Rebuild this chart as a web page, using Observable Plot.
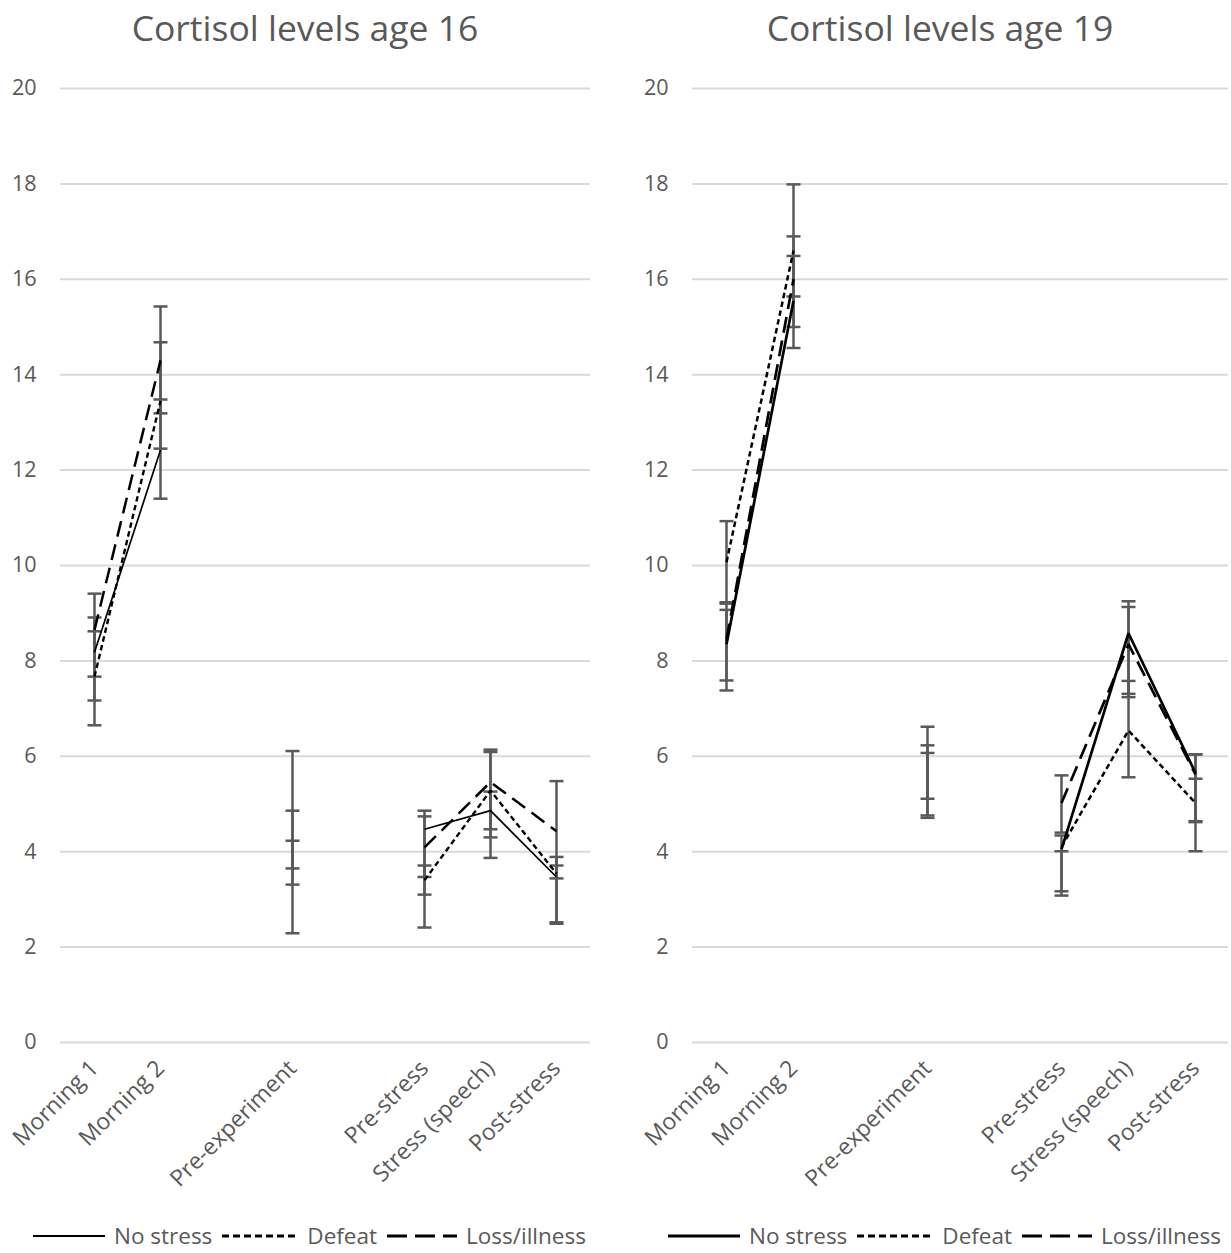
<!DOCTYPE html>
<html><head><meta charset="utf-8">
<script src="https://cdn.jsdelivr.net/npm/d3@7"></script>
<script src="https://cdn.jsdelivr.net/npm/@observablehq/plot@0.6"></script>
<style>
body{margin:0;background:#fff;font-family:"Open Sans",sans-serif;}
#wrap{position:relative;width:1231px;height:1253px;overflow:hidden;background:#fff;}
.title{position:absolute;top:3px;font-size:35.5px;color:#595959;text-align:center;white-space:nowrap;}
.panel{position:absolute;top:60px;}
.legend{position:absolute;top:1222px;display:flex;align-items:center;font-size:22.5px;color:#595959;white-space:nowrap;line-height:28px;}
.legend svg{display:block;margin-right:9px;}
.legend span{margin-right:10px;}
</style></head><body><div id="wrap"></div>
<script>
// Categories (blank slots are spacing categories in the original chart)
const slots = ["Morning 1","Morning 2"," ","Pre-experiment","  ","Pre-stress","Stress (speech)","Post-stress"];
const seriesNames = ["No stress","Defeat","Loss/illness"];
const yTicks = [0,2,4,6,8,10,12,14,16,18,20];
const titles = ["Cortisol levels age 16","Cortisol levels age 19"];

// Age 16 — means
const age16NoStress = [8.18, 12.42, null, 3.77, null, 4.47, 4.86, 3.47];
const age16Defeat   = [7.67, 13.45, null, 3.58, null, 3.40, 5.28, 3.54];
const age16Loss     = [8.65, 14.30, null, 4.88, null, 4.09, 5.46, 4.43];
// Age 16 — error bar limits
const age16NoStressLo = [7.17, 11.40, null, 3.31, null, 3.47, 3.87, 2.49];
const age16NoStressHi = [8.91, 13.48, null, 4.23, null, 4.86, 5.26, 3.71];
const age16DefeatLo   = [6.65, 12.45, null, 2.29, null, 3.10, 4.47, 2.52];
const age16DefeatHi   = [8.62, 14.68, null, 4.86, null, 3.71, 6.09, 3.89];
const age16LossLo     = [7.67, 13.19, null, 3.65, null, 2.41, 4.30, 3.44];
const age16LossHi     = [9.41, 15.43, null, 6.11, null, 4.74, 6.14, 5.48];

// Age 19 — means
const age19NoStress = [8.35, 15.55, null, 5.67, null, 4.05, 8.58, 5.65];
const age19Defeat   = [10.07, 16.60, null, 5.50, null, 4.10, 6.54, 5.02];
const age19Loss     = [8.45, 16.00, null, 5.59, null, 5.02, 8.35, 5.62];
// Age 19 — error bar limits
const age19NoStressLo = [7.59, 14.56, null, 4.71, null, 3.08, 7.31, 4.62];
const age19NoStressHi = [9.07, 16.49, null, 6.62, null, 4.01, 9.25, 6.04];
const age19DefeatLo   = [9.23, 15.00, null, 4.76, null, 3.17, 5.56, 4.01];
const age19DefeatHi   = [10.93, 17.99, null, 6.23, null, 4.34, 7.58, 6.04];
const age19LossLo     = [7.38, 15.64, null, 5.11, null, 4.40, 7.24, 4.64];
const age19LossHi     = [9.20, 16.90, null, 6.07, null, 5.60, 9.13, 5.53];

function table(means, los, his) {
  const rows = [];
  seriesNames.forEach((s, k) => {
    slots.forEach((slot, i) => {
      rows.push({series: s, slot, mean: means[k][i] ?? NaN, lo: los[k][i], hi: his[k][i]});
    });
  });
  return rows;
}
const data16 = table([age16NoStress, age16Defeat, age16Loss],
                     [age16NoStressLo, age16DefeatLo, age16LossLo],
                     [age16NoStressHi, age16DefeatHi, age16LossHi]);
const data19 = table([age19NoStress, age19Defeat, age19Loss],
                     [age19NoStressLo, age19DefeatLo, age19LossLo],
                     [age19NoStressHi, age19DefeatHi, age19LossHi]);

const dashes = {"No stress": null, "Defeat": "5.5,3.5", "Loss/illness": "16,8"};
const legendDashes = {"No stress": null, "Defeat": "7,4", "Loss/illness": "20,8"};

// horizontal cap symbol for error bars
const capSymbol = {draw(context) { context.moveTo(-7, 0); context.lineTo(7, 0); }};

function panel(data, {width, marginLeft, marginRight, widths}) {
  const bars = data.filter(d => d.lo != null);
  return Plot.plot({
    width, height: 1140,
    marginTop: 28, marginBottom: 158, marginLeft, marginRight,
    style: {fontFamily: '"Open Sans", sans-serif', color: "#595959", background: "#fff", overflow: "visible"},
    x: {type: "point", domain: slots, padding: 0.5},
    y: {domain: [0, 20]},
    marks: [
      Plot.gridY(yTicks, {stroke: "#d9d9d9", strokeOpacity: 1, strokeWidth: 2}),
      Plot.axisY({ticks: yTicks, tickSize: 0, tickPadding: 24, fontSize: 21.5, label: null}),
      Plot.axisX({tickSize: 0, tickRotate: -45, tickPadding: 22, fontSize: 23, label: null, tickFormat: d => d.trim()}),
      Plot.ruleX(bars, {x: "slot", y1: "lo", y2: "hi", stroke: "#595959", strokeWidth: 2.5}),
      Plot.dot(bars, {x: "slot", y: "lo", symbol: capSymbol, stroke: "#595959", fill: "none", strokeWidth: 2.5}),
      Plot.dot(bars, {x: "slot", y: "hi", symbol: capSymbol, stroke: "#595959", fill: "none", strokeWidth: 2.5}),
      ...seriesNames.map(s => Plot.line(data.filter(d => d.series === s), {
        x: "slot", y: "mean", stroke: "black", strokeWidth: widths[s],
        strokeDasharray: dashes[s], strokeLinecap: "butt", strokeLinejoin: "miter"
      }))
    ]
  });
}

function legend(widthsStroke) {
  const div = document.createElement("div");
  div.className = "legend";
  const widths = {"No stress": 72, "Defeat": 76, "Loss/illness": 70};
  seriesNames.forEach(s => {
    const svg = d3.create("svg").attr("width", widths[s]).attr("height", 10);
    svg.append("line").attr("x1", 0).attr("x2", widths[s]).attr("y1", 5).attr("y2", 5)
      .attr("stroke", "black").attr("stroke-width", widthsStroke[s] + 0.4)
      .attr("stroke-dasharray", legendDashes[s]);
    div.appendChild(svg.node());
    const t = document.createElement("span");
    t.textContent = s;
    div.appendChild(t);
  });
  return div;
}

const wrap = document.getElementById("wrap");
const configs = [
  {data: data16, left: 0, width: 615, marginLeft: 60, marginRight: 25,
   widths: {"No stress": 1.7, "Defeat": 2.4, "Loss/illness": 2.5}, titleLeft: 0, titleWidth: 610, legendLeft: 33},
  {data: data19, left: 615, width: 616, marginLeft: 77, marginRight: 3,
   widths: {"No stress": 2.7, "Defeat": 2.5, "Loss/illness": 2.7}, titleLeft: 640, titleWidth: 600, legendLeft: 668}
];
configs.forEach((c, i) => {
  const t = document.createElement("div");
  t.className = "title";
  t.style.left = c.titleLeft + "px";
  t.style.width = c.titleWidth + "px";
  t.textContent = titles[i];
  wrap.appendChild(t);
  const p = panel(c.data, c);
  p.classList.add("panel");
  p.style.left = c.left + "px";
  wrap.appendChild(p);
  const l = legend(c.widths);
  l.style.left = c.legendLeft + "px";
  wrap.appendChild(l);
});
</script></body></html>
